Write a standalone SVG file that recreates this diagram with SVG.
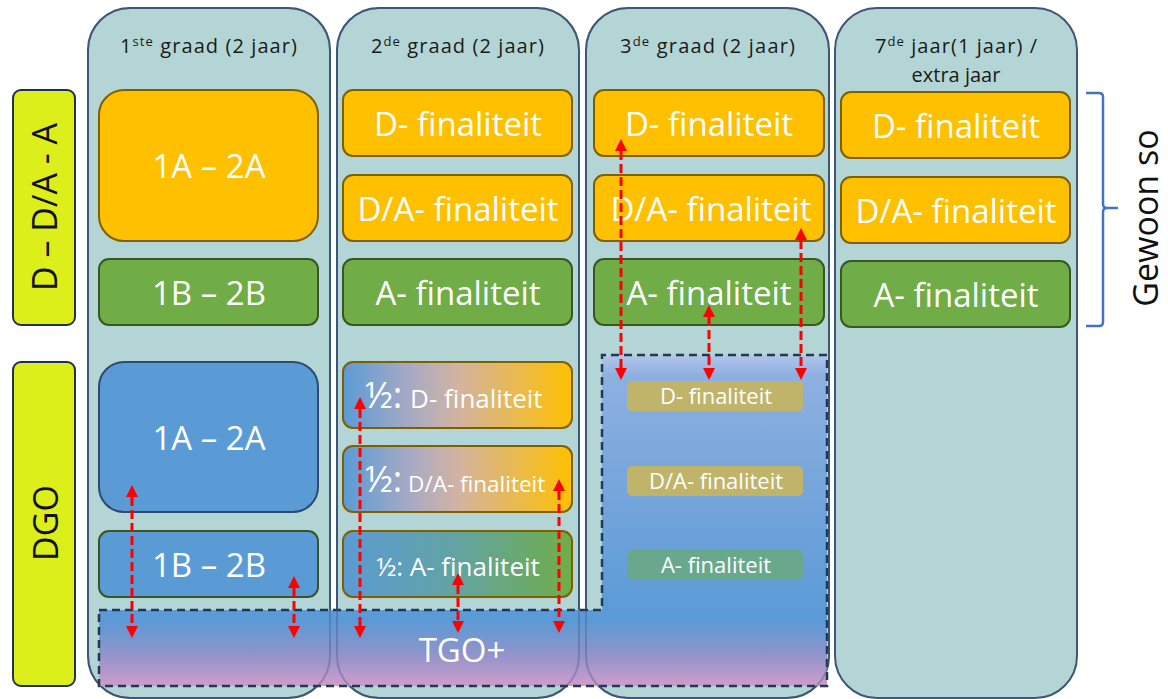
<svg xmlns="http://www.w3.org/2000/svg" width="1168" height="699" viewBox="0 0 1168 699">
<style>
text{font-family:"Open Sans","Liberation Sans",sans-serif}
.col{fill:#B4D5D5;stroke:#3E5677;stroke-width:2}
.colo{fill:none;stroke:#3E5677;stroke-width:2;stroke-opacity:0.35}
.hdr{font-size:20px;fill:#1a1a1a}
.org{fill:#FFC000;stroke:#7F6000;stroke-width:2}
.grn{fill:#70AD47;stroke:#385723;stroke-width:2}
.blu{fill:#5B9BD5;stroke:#2E4A6E;stroke-width:2}
.blug{fill:#5B9BD5;stroke:#3A5525;stroke-width:2}
.big{font-size:33px;fill:#fff;text-anchor:middle}
.mid{font-size:22px;fill:#fff;text-anchor:middle}
.side{fill:#DCEF1A;stroke:#1F3050;stroke-width:2}
.arr{stroke:#FF0000;stroke-width:3;stroke-dasharray:9 4;fill:none;marker-start:url(#ah);marker-end:url(#ah)}
</style>
<defs>
<marker id="ah" viewBox="0 0 10 10" refX="0" refY="5" markerWidth="12" markerHeight="12" markerUnits="userSpaceOnUse" orient="auto-start-reverse">
<path d="M0,0 L10,5 L0,10 z" fill="#FF0000"/>
</marker>
<linearGradient id="gD" x1="0" y1="0" x2="1" y2="0">
<stop offset="0" stop-color="#5B9BD5"/><stop offset="0.3" stop-color="#A9AAC4"/><stop offset="0.5" stop-color="#D2B3A1"/><stop offset="1" stop-color="#FFC000"/>
</linearGradient>
<linearGradient id="gA" x1="0" y1="0" x2="1" y2="0">
<stop offset="0" stop-color="#5B9BD5"/><stop offset="0.5" stop-color="#62A3A2"/><stop offset="1" stop-color="#70AD47"/>
</linearGradient>
<linearGradient id="gT" gradientUnits="userSpaceOnUse" x1="0" y1="355" x2="0" y2="686">
<stop offset="0" stop-color="#B2C6EA"/><stop offset="0.06" stop-color="#8EB0E0"/><stop offset="0.8" stop-color="#5A9AD6"/><stop offset="0.9" stop-color="#8D94CA"/><stop offset="1" stop-color="#D09CCB"/>
</linearGradient>
</defs>

<g id="columns">
<rect class="col" x="88" y="8" width="242" height="690" rx="42"/>
<rect class="col" x="337" y="8" width="242" height="690" rx="42"/>
<rect class="col" x="586" y="8" width="243" height="690" rx="42"/>
<rect class="col" x="835" y="8" width="242" height="690" rx="42"/>
<text class="hdr" x="120" y="53" textLength="177" lengthAdjust="spacing">1<tspan font-size="13" dy="-7">ste</tspan><tspan dy="7"> graad (2 jaar)</tspan></text>
<text class="hdr" x="371" y="53" textLength="173" lengthAdjust="spacing">2<tspan font-size="13" dy="-7">de</tspan><tspan dy="7"> graad (2 jaar)</tspan></text>
<text class="hdr" x="620" y="53" textLength="175" lengthAdjust="spacing">3<tspan font-size="13" dy="-7">de</tspan><tspan dy="7"> graad (2 jaar)</tspan></text>
<text class="hdr" x="875" y="53" textLength="162" lengthAdjust="spacing">7<tspan font-size="13" dy="-7">de</tspan><tspan dy="7"> jaar(1 jaar) /</tspan></text>
<text class="hdr" x="956" y="82" text-anchor="middle">extra jaar</text>
</g>

<g id="side-dda">
<rect class="side" x="13" y="90" width="62" height="235" rx="8"/>
<text transform="translate(57,207) rotate(-90)" font-size="34" text-anchor="middle" fill="#111">D – D/A - A</text>
</g>
<g id="side-dgo">
<rect class="side" x="13" y="362" width="62" height="324" rx="8"/>
<text transform="translate(58,523) rotate(-90)" font-size="34" text-anchor="middle" fill="#111">DGO</text>
</g>

<g id="tgo">
<path d="M99,610 H602 V355 H827 V686 H99 Z" fill="url(#gT)" stroke="#203A56" stroke-width="2.5" stroke-dasharray="8 5"/>
<rect class="colo" x="88" y="8" width="242" height="690" rx="42"/>
<rect class="colo" x="337" y="8" width="242" height="690" rx="42"/>
<rect class="colo" x="586" y="8" width="243" height="690" rx="42"/>
<text class="big" x="462" y="662">TGO+</text>
</g>

<g id="c1-1a2a"><rect class="org" x="99" y="90" width="219" height="151" rx="25"/><text class="big" x="209" y="178">1A – 2A</text></g>
<g id="c1-1b2b"><rect class="grn" x="99" y="259" width="219" height="66" rx="10"/><text class="big" x="209" y="305">1B – 2B</text></g>
<g id="c1-dgo-1a2a"><rect class="blu" x="99" y="362" width="219" height="150" rx="25"/><text class="big" x="209" y="450">1A – 2A</text></g>
<g id="c1-dgo-1b2b"><rect class="blug" x="99" y="531" width="219" height="66" rx="10"/><text class="big" x="209" y="577">1B – 2B</text></g>

<g id="c2-d"><rect class="org" x="343" y="90" width="229" height="66" rx="10"/><text class="big" x="458" y="136">D- finaliteit</text></g>
<g id="c2-da"><rect class="org" x="343" y="175" width="229" height="66" rx="10"/><text class="big" x="458" y="221">D/A- finaliteit</text></g>
<g id="c2-a"><rect class="grn" x="343" y="259" width="229" height="66" rx="10"/><text class="big" x="458" y="305">A- finaliteit</text></g>
<g id="c2-hd"><rect x="343" y="362" width="229" height="66" rx="10" fill="url(#gD)" stroke="#7F6000" stroke-width="2"/><text x="365" y="408" fill="#fff"><tspan font-size="36">½:</tspan><tspan font-size="26" dx="8">D- finaliteit</tspan></text></g>
<g id="c2-hda"><rect x="343" y="446" width="229" height="66" rx="10" fill="url(#gD)" stroke="#7F6000" stroke-width="2"/><text x="365" y="492" fill="#fff"><tspan font-size="36">½:</tspan><tspan font-size="22.5" dx="6">D/A- finaliteit</tspan></text></g>
<g id="c2-ha"><rect x="343" y="531" width="229" height="66" rx="10" fill="url(#gA)" stroke="#7F6000" stroke-width="2"/><text x="458" y="576" fill="#fff" font-size="26" text-anchor="middle">½: A- finaliteit</text></g>

<g id="c3-d"><rect class="org" x="594" y="90" width="230" height="66" rx="10"/><text class="big" x="709" y="136">D- finaliteit</text></g>
<g id="c3-da"><rect class="org" x="594" y="175" width="230" height="66" rx="10"/><text class="big" x="711" y="221">D/A- finaliteit</text></g>
<g id="c3-a"><rect class="grn" x="594" y="259" width="230" height="66" rx="10"/><text class="big" x="709" y="305">A- finaliteit</text></g>
<g id="c3-td"><rect x="627" y="381" width="176" height="30" rx="5" fill="#C0B46A"/><text class="mid" x="716" y="404">D- finaliteit</text></g>
<g id="c3-tda"><rect x="627" y="466" width="176" height="30" rx="5" fill="#C0B46A"/><text class="mid" x="716" y="489">D/A- finaliteit</text></g>
<g id="c3-ta"><rect x="627" y="550" width="176" height="30" rx="5" fill="#6AA88E"/><text class="mid" x="716" y="573">A- finaliteit</text></g>

<g id="c4-d"><rect class="org" x="841" y="92" width="229" height="66" rx="10"/><text class="big" x="956" y="138">D- finaliteit</text></g>
<g id="c4-da"><rect class="org" x="841" y="177" width="229" height="66" rx="10"/><text class="big" x="956" y="223">D/A- finaliteit</text></g>
<g id="c4-a"><rect class="grn" x="841" y="261" width="229" height="66" rx="10"/><text class="big" x="956" y="307">A- finaliteit</text></g>

<g id="gewoon">
<path d="M1086,93 H1099 Q1103,93 1103,97 V204 Q1103,208 1107,208 H1118 M1107,208 Q1103,208 1103,212 V322 Q1103,326 1099,326 H1086" fill="none" stroke="#4472C4" stroke-width="2.5"/>
<text transform="translate(1158,218) rotate(-90)" font-size="34" text-anchor="middle" fill="#111">Gewoon so</text>
</g>

<g id="connectors">
<line class="arr" x1="132" y1="497" x2="132" y2="626"/>
<line class="arr" x1="294" y1="588" x2="294" y2="626"/>
<line class="arr" x1="360" y1="409" x2="360" y2="626"/>
<line class="arr" x1="458" y1="585" x2="458" y2="621"/>
<line class="arr" x1="559" y1="491" x2="559" y2="621"/>
<line class="arr" x1="621" y1="151" x2="621" y2="368"/>
<line class="arr" x1="709" y1="317" x2="709" y2="368"/>
<line class="arr" x1="801" y1="240" x2="801" y2="368"/>
</g>
</svg>
